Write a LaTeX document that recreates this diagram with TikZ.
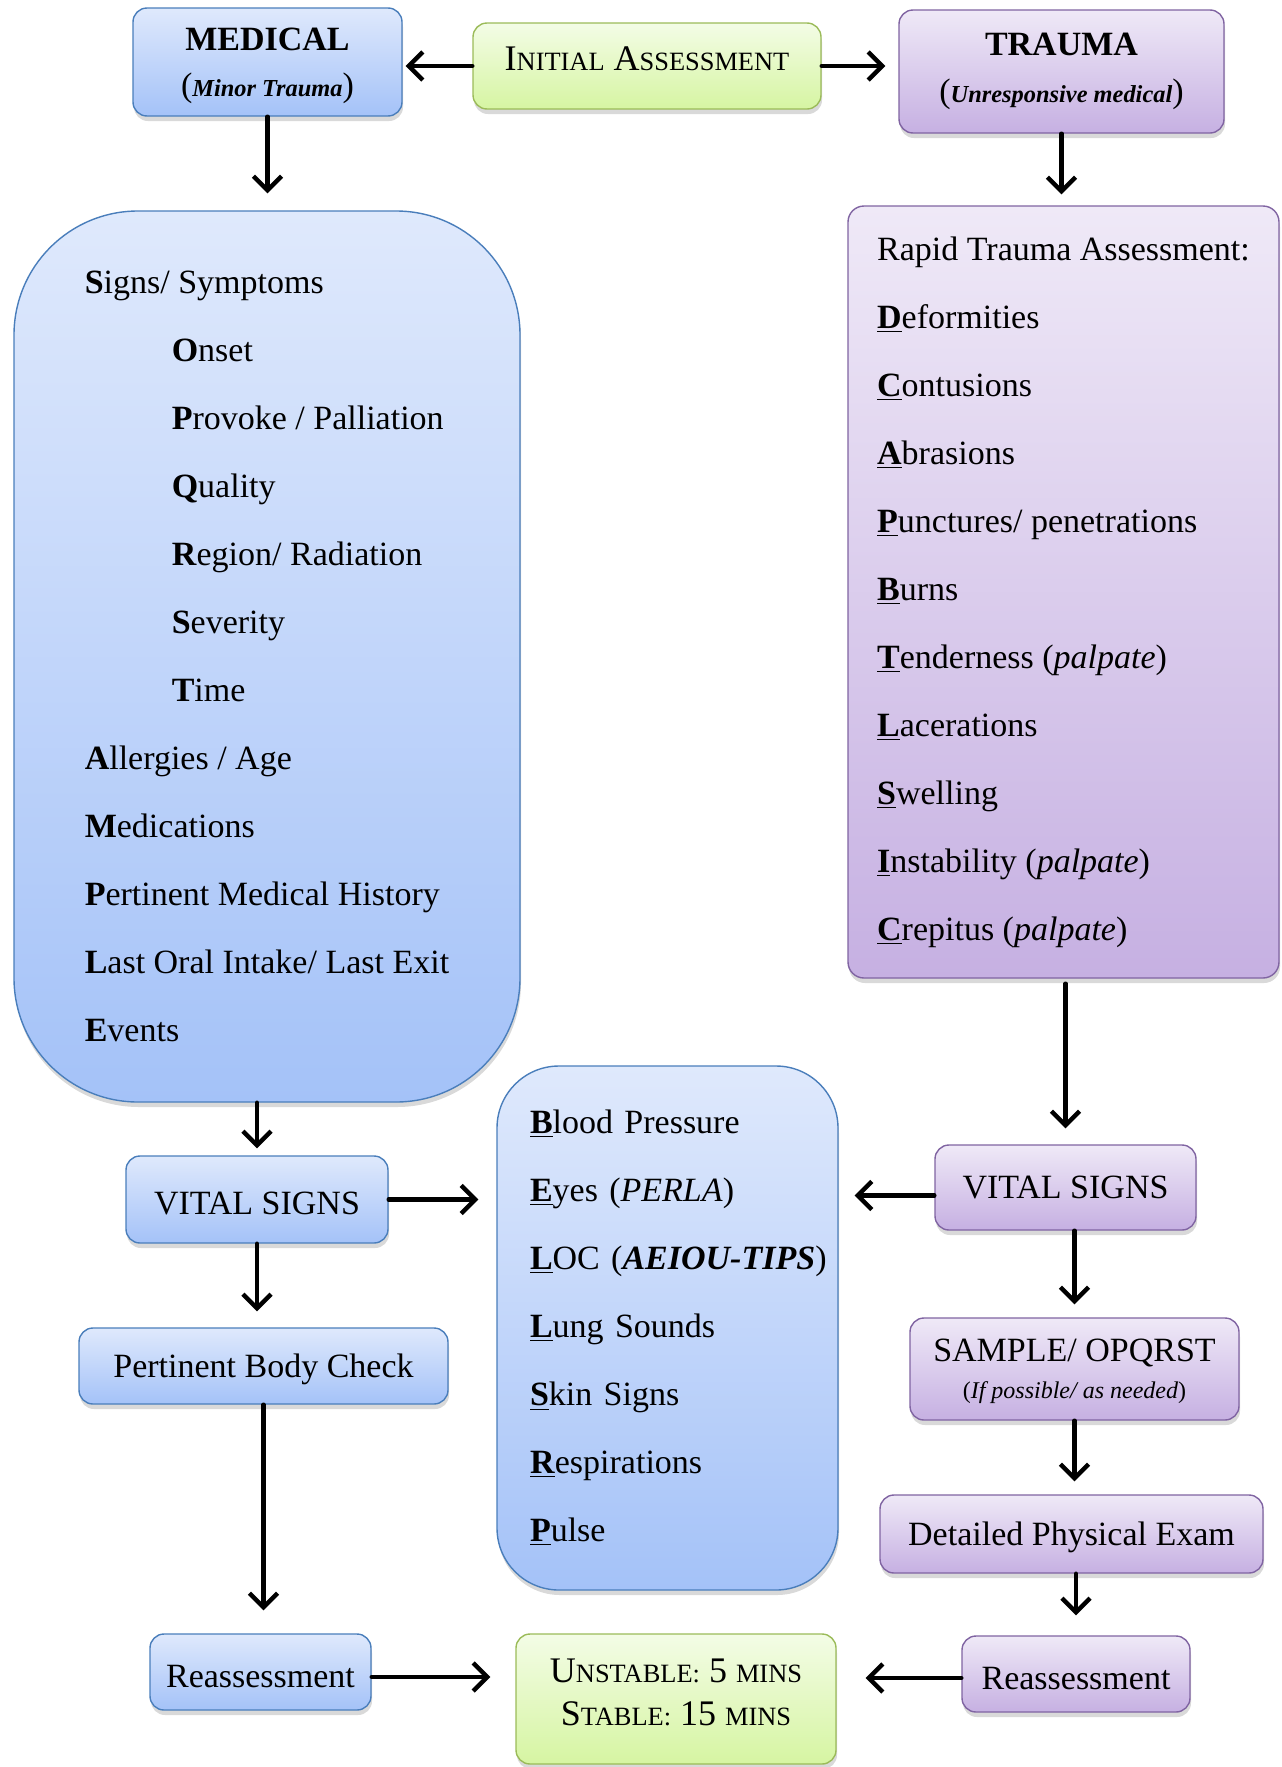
\documentclass[tikz,border=0pt]{standalone}
\usepackage{fontspec}
\setmainfont{Liberation Serif}
\usepackage{tikz}
\usetikzlibrary{arrows.meta,shadows}
\definecolor{b1}{HTML}{DFE9FC}
\definecolor{b2}{HTML}{A4C2F8}
\definecolor{b3}{HTML}{4A7EBB}
\definecolor{v1}{HTML}{EFE9F7}
\definecolor{v2}{HTML}{C6B0E2}
\definecolor{v3}{HTML}{8064A2}
\definecolor{g1}{HTML}{F3FCE6}
\definecolor{g2}{HTML}{D6F5A2}
\definecolor{g3}{HTML}{9BBB59}
\newcommand{\smc}[1]{{\fontsize{13.2}{15}\selectfont #1}}
\newcommand{\hd}[1]{\textbf{#1}}
\newcommand{\hdu}[1]{\underline{\textbf{#1}}}
\newcommand{\ind}{\hspace*{43.5pt}}
\tikzset{
  box/.style={rectangle, rounded corners=7pt, line width=0.7pt, inner sep=0pt, align=center,
    font=\fontsize{17}{20}\selectfont,
    drop shadow={shadow xshift=0.5pt, shadow yshift=-2.5pt, opacity=0.3}},
  bluebox/.style={box, draw=b3, top color=b1, bottom color=b2},
  violetbox/.style={box, draw=v3, top color=v1, bottom color=v2},
  greenbox/.style={box, draw=g3, top color=g1, bottom color=g2},
  listfont/.style={font=\fontsize{17}{34}\selectfont, align=left},
  low/.style={text height=15.5pt},
  arr/.style={line width=2.2pt, line cap=round, -{Straight Barb[length=7pt,width=14pt]}, shorten >=7pt},
}

\begin{document}
\begin{tikzpicture}[x=0.5pt,y=-0.5pt]
\path[use as bounding box] (0,0) rectangle (1281,1767);
% top row
\node[bluebox, minimum width=134.5pt, minimum height=54pt, text depth=0pt] (med) at (267.5,62)
  {\textbf{MEDICAL}\\[3pt](\textbf{\textit{\fontsize{12.2}{14}\selectfont Minor Trauma}})};
\node[greenbox, minimum width=174pt, minimum height=43pt, text depth=7.5pt,
  font=\fontsize{18}{20}\selectfont] (init) at (647,66)
  {I\smc{NITIAL} A\smc{SSESSMENT}};
\node[violetbox, minimum width=162.5pt, minimum height=61.5pt] (trauma) at (1061.5,71.5)
  {\textbf{TRAUMA}\\[3.5pt](\textbf{\textit{\fontsize{12.2}{14}\selectfont Unresponsive medical}})};
% lists
\node[bluebox, rounded corners=62pt, minimum width=253pt, minimum height=445.5pt, listfont]
  (medlist) at (267,656.5)
  {\hd{S}igns/ Symptoms\\
   \ind\hd{O}nset\\
   \ind\hd{P}rovoke / Palliation\\
   \ind\hd{Q}uality\\
   \ind\hd{R}egion/ Radiation\\
   \ind\hd{S}everity\\
   \ind\hd{T}ime\\
   \hd{A}llergies / Age\\
   \hd{M}edications\\
   \hd{P}ertinent Medical History\\
   \hd{L}ast Oral Intake/ Last Exit\\
   \hd{E}vents};
\node[violetbox, rounded corners=8pt, minimum width=215.5pt, minimum height=386pt, listfont]
  (rapid) at (1063.5,592)
  {Rapid Trauma Assessment:\\
   \hdu{D}eformities\\
   \hdu{C}ontusions\\
   \hdu{A}brasions\\
   \hdu{P}unctures/ penetrations\\
   \hdu{B}urns\\
   \hdu{T}enderness (\textit{palpate})\\
   \hdu{L}acerations\\
   \hdu{S}welling\\
   \hdu{I}nstability (\textit{palpate})\\
   \hdu{C}repitus (\textit{palpate})};
\node[bluebox, rounded corners=31pt, minimum width=170.5pt, minimum height=262pt, listfont,
  text width=137.5pt] (checks) at (667.5,1328)
  {\hdu{B}lood Pressure\\
   \hdu{E}yes (\textit{PERLA})\\
   \mbox{\hdu{L}OC (\textbf{\textit{AEIOU-TIPS}})}\\
   \hdu{L}ung Sounds\\
   \hdu{S}kin Signs\\
   \hdu{R}espirations\\
   \hdu{P}ulse};
% left column
\node[bluebox, low, minimum width=131pt, minimum height=43.5pt] (vitL) at (257,1199.5) {VITAL SIGNS};
\node[bluebox, low, minimum width=184.5pt, minimum height=38pt] (body) at (263.5,1366) {Pertinent Body Check};
\node[bluebox, low, minimum width=110.5pt, minimum height=38pt] (reL) at (260.5,1672) {Reassessment};
% right column
\node[violetbox, minimum width=130.5pt, minimum height=42.5pt] (vitR) at (1065.5,1187.5) {VITAL SIGNS};
\node[violetbox, minimum width=164.5pt, minimum height=51pt, text depth=0pt] (sample) at (1074.5,1369)
  {SAMPLE/ OPQRST\\[-1.5pt]{\fontsize{12}{14}\selectfont(\textit{If possible/ as needed})}};
\node[violetbox, low, minimum width=191.5pt, minimum height=39pt] (exam) at (1071.5,1534) {Detailed Physical Exam};
\node[violetbox, low, minimum width=114pt, minimum height=38pt] (reR) at (1076,1674) {Reassessment};
% bottom
\node[greenbox, minimum width=160pt, minimum height=65pt, text depth=7pt,
  font=\fontsize{18}{20}\selectfont] (times) at (676,1699)
  {U\smc{NSTABLE:} 5 \smc{MINS}\\[1.5pt]S\smc{TABLE:} 15 \smc{MINS}};

\draw[arr, shorten >=1.5pt] (init.west) -- (init.west -| med.east);
\draw[arr, shorten >=6.5pt] (init.east) -- (init.east -| trauma.west);
\draw[arr, shorten >=8.5pt] (med.south) -- (med.south |- medlist.north);
\draw[arr, shorten >=5.5pt] (trauma.south) -- (trauma.south |- rapid.north);
\draw[arr, shorten >=3.5pt] (medlist.south -| vitL.north) -- (vitL.north);
\draw[arr, shorten >=8pt, shorten <=2.5pt] (rapid.south -| vitR.north) -- (vitR.north);
\draw[arr, shorten >=9pt] (vitL.east) -- (vitL.east -| checks.west);
\draw[arr, shorten >=8pt] ([yshift=-4pt]vitR.west) -- ([yshift=-4pt]vitR.west -| checks.east);
\draw[arr, shorten >=8pt] (vitL.south) -- (vitL.south |- body.north);
\draw[arr, shorten >=6.5pt] (vitR.south -| sample.north) -- (sample.north);
\draw[arr, shorten >=11.5pt] (body.south) -- (body.south |- reL.north);
\draw[arr, shorten >=6.5pt] (sample.south) -- (sample.south |- exam.north);
\draw[arr, shorten >=10pt] (exam.south -| reR.north) -- (reR.north);
\draw[arr, shorten >=12.5pt] ([yshift=-2.5pt]reL.east) -- ([yshift=-2.5pt]reL.east -| times.west);
\draw[arr, shorten >=14.5pt] ([yshift=-2pt]reR.west) -- ([yshift=-2pt]reR.west -| times.east);
\end{tikzpicture}
\end{document}
